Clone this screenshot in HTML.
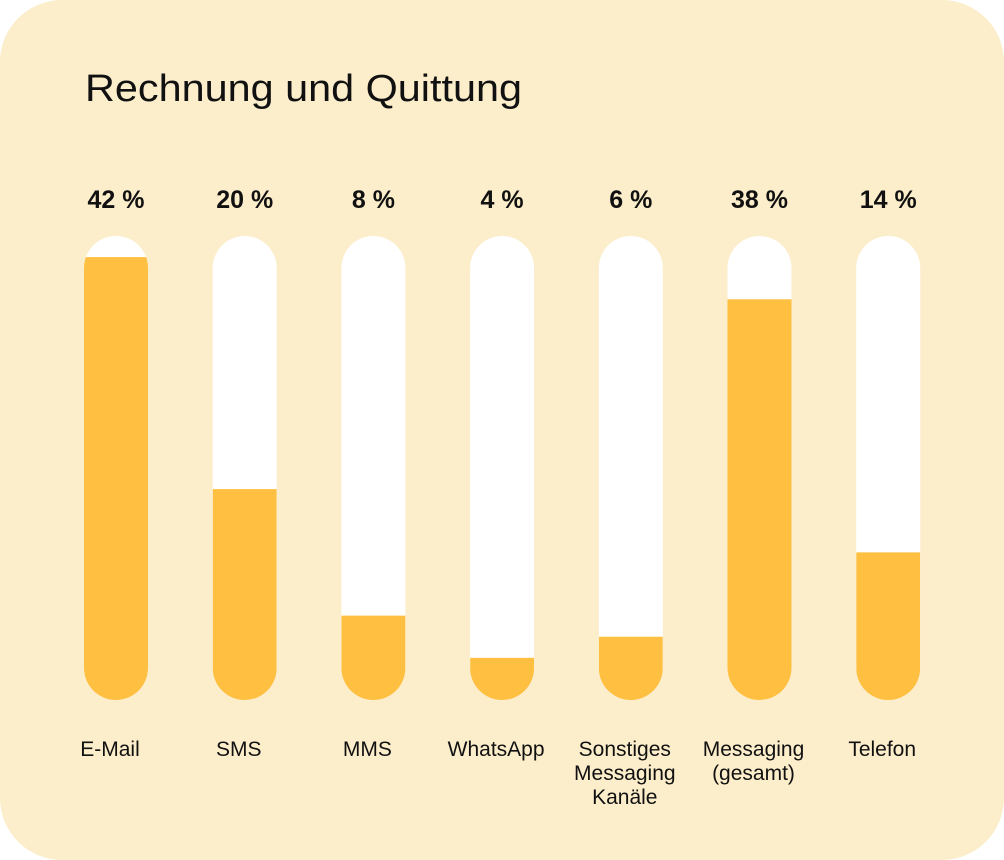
<!DOCTYPE html>
<html><head><meta charset="utf-8"><style>
html,body{margin:0;padding:0;background:#fff;}
svg{display:block;font-family:"Liberation Sans",sans-serif;}
</style></head><body>
<svg width="1004" height="860" viewBox="0 0 1004 860">
<rect x="0" y="0" width="1004" height="860" rx="62" fill="#FCEDCB"/>
<text x="85" y="101" font-size="38" fill="#111" textLength="437" lengthAdjust="spacingAndGlyphs">Rechnung und Quittung</text>
<g id="bars"></g>
</svg>
<script>
const categories = [["E-Mail"],["SMS"],["MMS"],["WhatsApp"],["Sonstiges","Messaging","Kanäle"],["Messaging","(gesamt)"],["Telefon"]];
const values = [42, 20, 8, 4, 6, 38, 14];
const valueLabels = ["42 %","20 %","8 %","4 %","6 %","38 %","14 %"];
const NS = "http://www.w3.org/2000/svg";
const barsGroup = document.getElementById("bars");
const x0 = 84, step = 128.7, bw = 64, yTop = 236, yBottom = 700, maxV = 44;
function xPos(i){ return x0 + i*step; }
function yPos(v){ return yBottom - v/maxV*(yBottom-yTop); }
function mk(tag, attrs){ const e = document.createElementNS(NS, tag); for (const k in attrs) e.setAttribute(k, attrs[k]); return e; }
const defsEl = mk("defs", {});
barsGroup.appendChild(defsEl);
values.forEach((v, i) => {
  const x = xPos(i);
  const cp = mk("clipPath", {id: "clip" + i});
  cp.appendChild(mk("rect", {x: x, y: yTop, width: bw, height: yBottom - yTop, rx: bw/2}));
  defsEl.appendChild(cp);
  const track = mk("rect", {x: x, y: yTop, width: bw, height: yBottom - yTop, rx: bw/2, fill: "#fff"});
  
  
  barsGroup.appendChild(track);
  const yv = yPos(v);
  const fill = mk("rect", {x: x, y: yv, width: bw, height: yBottom - yv, fill: "#FFBF40", "clip-path": "url(#clip" + i + ")"});
  
  
  barsGroup.appendChild(fill);
  const vl = mk("text", {x: x + bw/2, y: 208, "font-size": 25, "font-weight": "bold", "text-anchor": "middle", fill: "#111"});
  vl.textContent = valueLabels[i];
  
  
  barsGroup.appendChild(vl);
  categories[i].forEach((line, j) => {
    const t = mk("text", {x: x + bw/2 - 6, y: 756 + j*24, "font-size": 21, "text-anchor": "middle", fill: "#111"});
    t.textContent = line;
    
    
    barsGroup.appendChild(t);
  });
});
</script>
</body></html>
